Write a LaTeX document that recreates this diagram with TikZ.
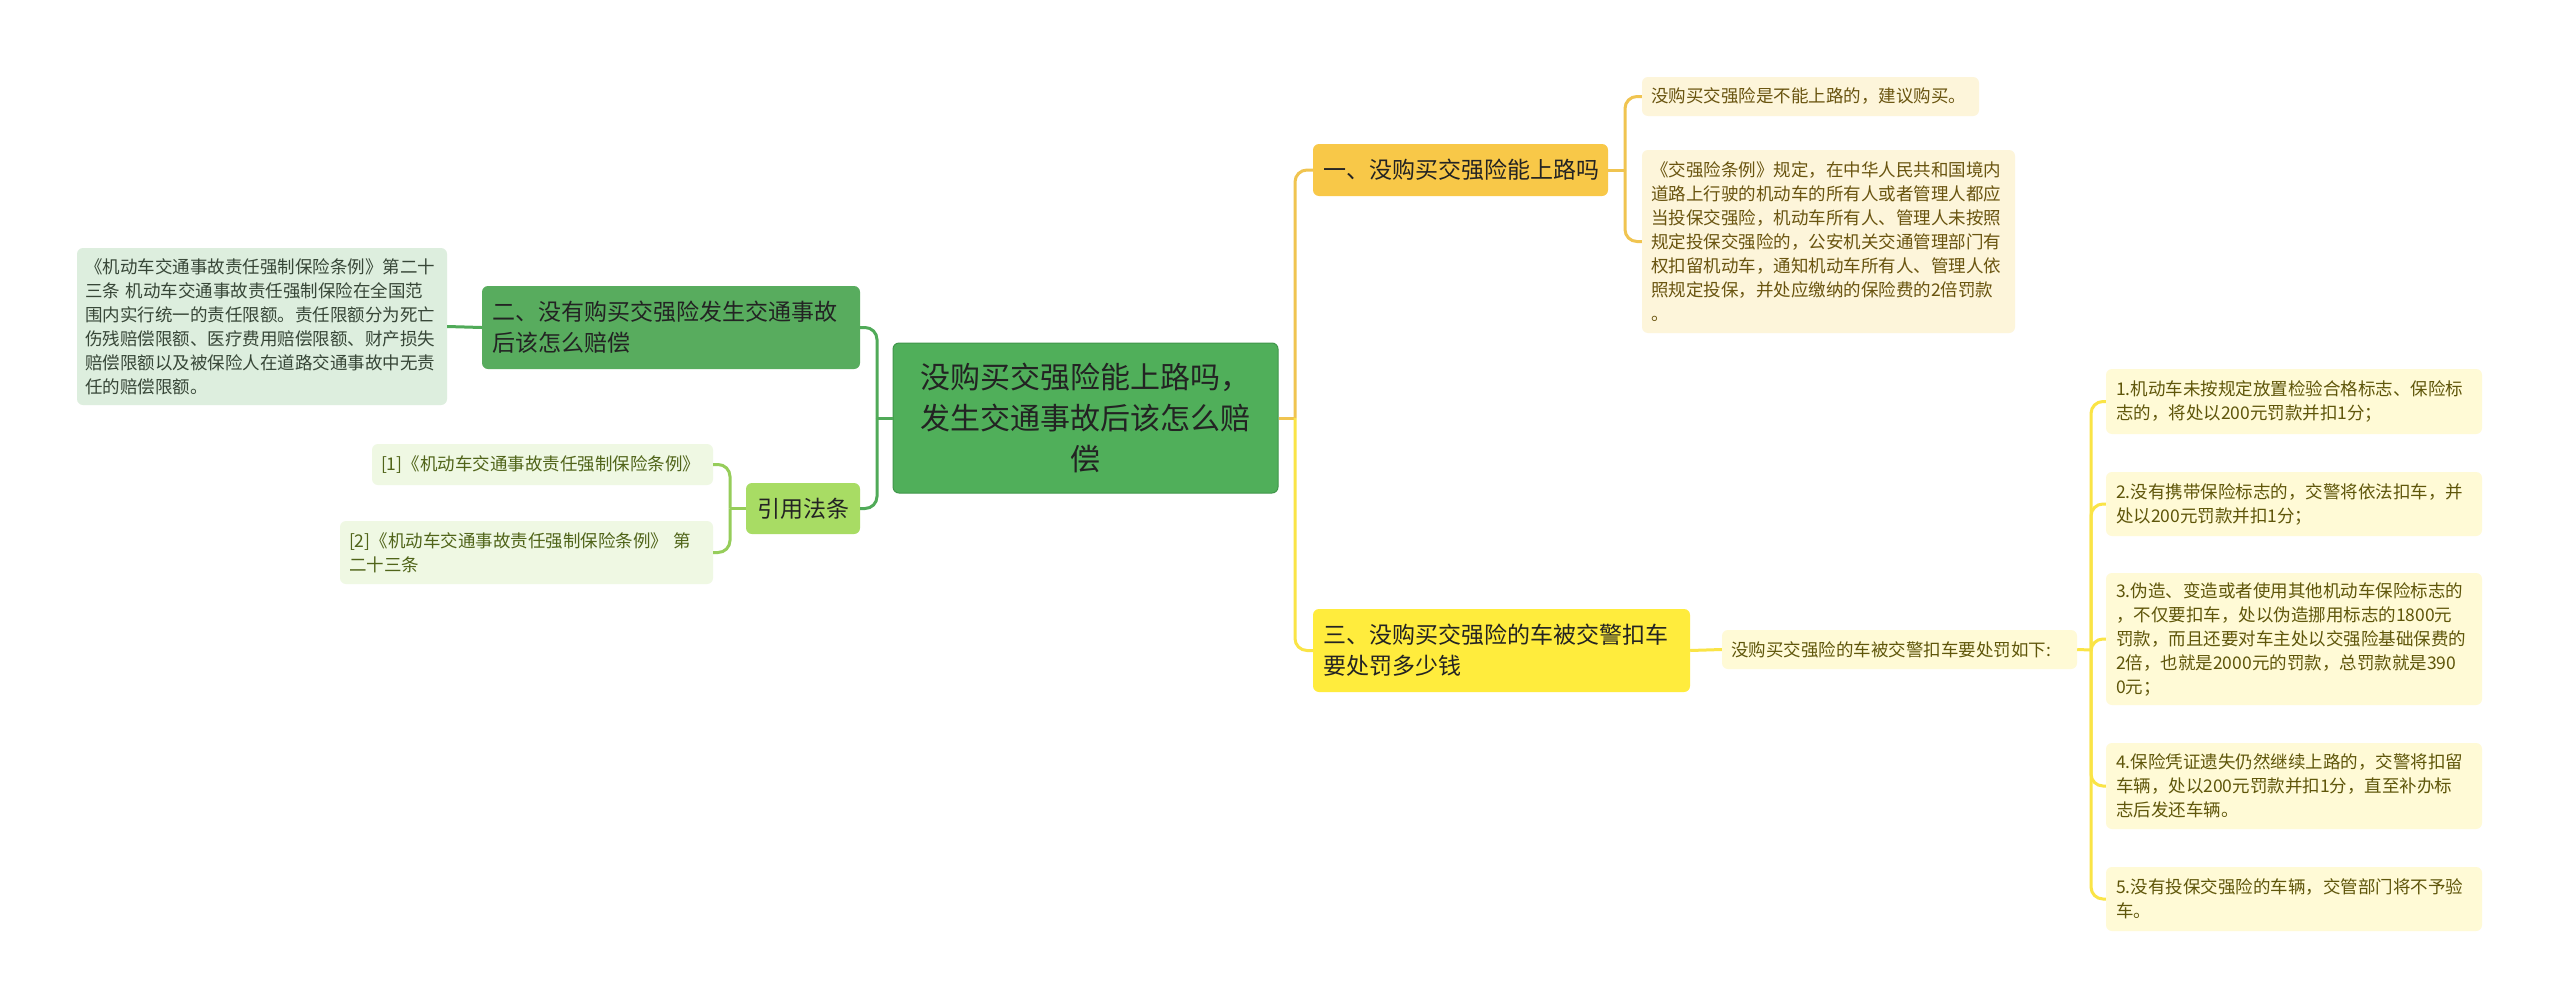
\documentclass[tikz,border=0pt]{standalone}
\usepackage{fontspec}
\setmainfont{Noto Sans CJK SC}
\definecolor{gC}{RGB}{80,175,90}
\definecolor{gCd}{RGB}{64,150,74}
\definecolor{gN2}{RGB}{88,172,94}
\definecolor{gYY}{RGB}{168,220,100}
\definecolor{gold}{RGB}{248,200,72}
\definecolor{yel}{RGB}{255,236,61}
\definecolor{cream}{RGB}{253,245,218}
\definecolor{lyel}{RGB}{255,250,214}
\definecolor{lgreen}{RGB}{221,238,222}
\definecolor{lgreen2}{RGB}{239,248,227}
\definecolor{tmain}{RGB}{35,35,35}
\definecolor{tgold}{RGB}{105,84,15}
\definecolor{tyel}{RGB}{95,86,10}
\definecolor{tlg}{RGB}{55,70,55}
\definecolor{tref}{RGB}{80,100,25}
\definecolor{lnGold}{RGB}{240,196,80}
\definecolor{lnYel}{RGB}{250,228,70}
\definecolor{lnGreen}{RGB}{80,170,88}
\definecolor{lnLG}{RGB}{150,205,90}
\begin{document}
\begin{tikzpicture}[x=1pt,y=-1pt,
  mainbox/.style={rounded corners=6pt, inner sep=0pt, text=tmain, align=left,
     font=\fontsize{23}{31}\selectfont},
  leafbox/.style={rounded corners=6pt, inner sep=0pt, align=left,
     font=\fontsize{17.5}{24}\selectfont},
  conn/.style={line width=3pt, rounded corners=12pt}]
\useasboundingbox (0,0) rectangle (2560,1007);
\fill[white] (0,0) rectangle (2560,1007);

% central
\node[mainbox, fill=gC, draw=gCd, line width=1pt, align=center, minimum width=385, minimum height=150,
  font=\fontsize{30}{41}\selectfont] (c) at (1085.5,418) {没购买交强险能上路吗，\\发生交通事故后该怎么赔\\偿};

% branch 1
\node[mainbox, fill=gold, minimum width=295, minimum height=52, text width=275] (n1) at (1460.5,170) {一、没购买交强险能上路吗};
\node[leafbox, fill=cream, text=tgold, minimum width=337, minimum height=39, text width=319] (l1a) at (1810.5,96.5) {没购买交强险是不能上路的，建议购买。};
\node[leafbox, fill=cream, text=tgold, minimum width=373, minimum height=183, text width=355] (l1b) at (1828.5,241.5) {《交强险条例》规定，在中华人民共和国境内\\道路上行驶的机动车的所有人或者管理人都应\\当投保交强险，机动车所有人、管理人未按照\\规定投保交强险的，公安机关交通管理部门有\\权扣留机动车，通知机动车所有人、管理人依\\照规定投保，并处应缴纳的保险费的2倍罚款\\。};

% branch 3
\node[mainbox, fill=yel, minimum width=377, minimum height=83, text width=357] (n3) at (1501.5,650.5) {三、没购买交强险的车被交警扣车\\要处罚多少钱};
\node[leafbox, fill=lyel, text=tyel, minimum width=355, minimum height=39, text width=337] (intro) at (1899.5,649.5) {没购买交强险的车被交警扣车要处罚如下:};
\node[leafbox, fill=lyel, text=tyel, minimum width=376, minimum height=65, text width=356] (r1) at (2294,401.5) {1.机动车未按规定放置检验合格标志、保险标\\志的，将处以200元罚款并扣1分；};
\node[leafbox, fill=lyel, text=tyel, minimum width=376, minimum height=64, text width=356] (r2) at (2294,504) {2.没有携带保险标志的，交警将依法扣车，并\\处以200元罚款并扣1分；};
\node[leafbox, fill=lyel, text=tyel, minimum width=376, minimum height=132, text width=356] (r3) at (2294,639) {3.伪造、变造或者使用其他机动车保险标志的\\，不仅要扣车，处以伪造挪用标志的1800元\\罚款，而且还要对车主处以交强险基础保费的\\2倍，也就是2000元的罚款，总罚款就是390\\0元；};
\node[leafbox, fill=lyel, text=tyel, minimum width=376, minimum height=86, text width=356] (r4) at (2294,786) {4.保险凭证遗失仍然继续上路的，交警将扣留\\车辆，处以200元罚款并扣1分，直至补办标\\志后发还车辆。};
\node[leafbox, fill=lyel, text=tyel, minimum width=376, minimum height=64, text width=356] (r5) at (2294,899) {5.没有投保交强险的车辆，交管部门将不予验\\车。};

% branch 2
\node[mainbox, fill=gN2, minimum width=378, minimum height=83, text width=358] (n2) at (671,327.5) {二、没有购买交强险发生交通事故\\后该怎么赔偿};
\node[leafbox, fill=lgreen, text=tlg, minimum width=370, minimum height=157, text width=354] (lf2) at (262,326.5) {《机动车交通事故责任强制保险条例》第二十\\三条 机动车交通事故责任强制保险在全国范\\围内实行统一的责任限额。责任限额分为死亡\\伤残赔偿限额、医疗费用赔偿限额、财产损失\\赔偿限额以及被保险人在道路交通事故中无责\\任的赔偿限额。};

% references
\node[mainbox, fill=gYY, align=center, minimum width=114, minimum height=51] (yy) at (803,508.5) {引用法条};
\node[leafbox, fill=lgreen2, text=tref, minimum width=341, minimum height=41, text width=323] (ref1) at (542.5,464.5) {[1]《机动车交通事故责任强制保险条例》};
\node[leafbox, fill=lgreen2, text=tref, minimum width=373, minimum height=63, text width=355] (ref2) at (526.5,552.5) {[2]《机动车交通事故责任强制保险条例》 第\\二十三条};

% connectors right
\coordinate (hR) at (1295,418);
\draw[conn, lnGold] (c.east) -- (hR);
\draw[conn, lnGold] (hR) |- (n1.west);
\draw[conn, lnYel] (hR) |- (n3.west);
\coordinate (h1) at (1625,170);
\draw[conn, lnGold] (n1.east) -- (h1);
\draw[conn, lnGold] (h1) |- (l1a.west);
\draw[conn, lnGold] (h1) |- (l1b.west);
\draw[conn, lnYel] (n3.east) -- (intro.west);
\coordinate (h3) at (2091,650);
\draw[conn, lnYel] (intro.east) -- (h3);
\draw[conn, lnYel] (h3) |- (r1.west);
\draw[conn, lnYel] (h3) |- (r2.west);
\draw[conn, lnYel] (h3) |- (r3.west);
\draw[conn, lnYel] (h3) |- (r4.west);
\draw[conn, lnYel] (h3) |- (r5.west);

% connectors left
\coordinate (hL) at (877,418);
\draw[conn, lnGreen] (c.west) -- (hL);
\draw[conn, lnGreen] (hL) |- (n2.east);
\draw[conn, lnGreen] (hL) |- (yy.east);
\draw[conn, lnGreen] (n2.west) -- (lf2.east);
\coordinate (hY) at (730,508.5);
\draw[conn, lnLG] (yy.west) -- (hY);
\draw[conn, lnLG] (hY) |- (ref1.east);
\draw[conn, lnLG] (hY) |- (ref2.east);
\end{tikzpicture}
\end{document}
